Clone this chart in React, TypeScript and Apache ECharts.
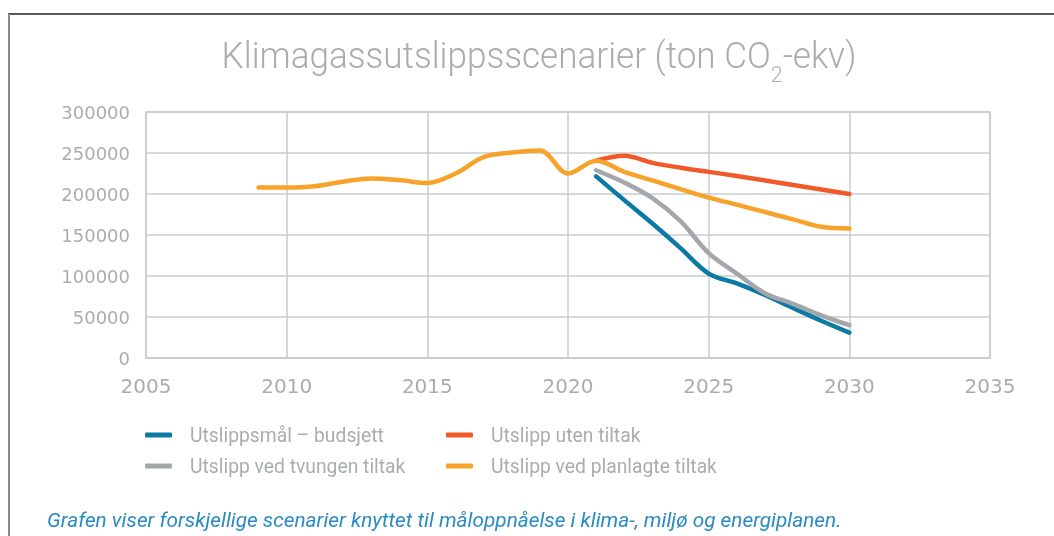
import React, { useEffect, useRef } from "react";
import * as echarts from "echarts";

const histYears = [2009, 2010, 2011, 2012, 2013, 2014, 2015, 2016, 2017, 2018, 2019, 2020, 2021];
const projYears = [2021, 2022, 2023, 2024, 2025, 2026, 2027, 2028, 2029, 2030];

const planlagteHist = [208000, 208000, 209500, 215000, 219000, 217000, 213500, 225000, 245000, 250500, 253000, 225000, 240500];
const planlagteProj = [240500, 227000, 216500, 206000, 195500, 187000, 178000, 169000, 160000, 158000];
const utenTiltak = [240500, 246500, 238000, 232000, 227000, 222000, 216500, 211000, 205500, 200000];
const tvungen = [229000, 214000, 195000, 167000, 128000, 103000, 79000, 66000, 52000, 40000];
const budsjett = [221500, 192500, 164000, 134000, 103000, 91000, 77000, 61000, 45500, 31000];

const seriesNames = [
  "Utslippsmål – budsjett",
  "Utslipp uten tiltak",
  "Utslipp ved tvungen tiltak",
  "Utslipp ved planlagte tiltak",
];
const colors = ["#0b7aa5", "#f05a28", "#a3a6aa", "#f7a229"];

const titleMain = "Klimagassutslippsscenarier (ton CO";
const titleSub = "2";
const titleEnd = "-ekv)";
const caption = "Grafen viser forskjellige scenarier knyttet til måloppnåelse i klima-, miljø og energiplanen.";

const pair = (xs: number[], ys: number[]) => xs.map((x, i) => [x, ys[i]]);

export default function App() {
  const ref = useRef<HTMLDivElement>(null);
  useEffect(() => {
    if (!ref.current) return;
    const chart = echarts.init(ref.current, null, { renderer: "svg" });
    const gridColor = "#c9ccce";
    const labelColor = "#a9adb0";
    const lineSeries = (name: string, color: string, data: number[][]) => ({
      name,
      type: "line",
      data,
      smooth: 0.35,
      showSymbol: false,
      symbol: "none",
      lineStyle: { color, width: 4.5, cap: "round", join: "round" },
      itemStyle: { color },
    });
    const orangeData = pair(histYears, planlagteHist).concat(pair(projYears, planlagteProj).slice(1));
    const legendCommon = {
      orient: "vertical",
      top: 420,
      itemWidth: 27,
      itemHeight: 5,
      itemGap: 11,
      icon: "roundRect",
      textStyle: { color: labelColor, fontFamily: "Roboto", fontSize: 19.3, lineHeight: 20, padding: [0, 0, 0, 13] },
    };
    chart.setOption({
      animation: false,
      grid: { left: 146, right: 64, top: 112, bottom: 178, show: true, borderColor: gridColor, borderWidth: 1.5, outerBoundsMode: "none" },
      xAxis: {
        type: "value",
        min: 2005,
        max: 2035,
        interval: 5,
        axisLine: { show: true, lineStyle: { color: gridColor, width: 1.5 } },
        axisTick: { show: false },
        splitLine: { show: true, lineStyle: { color: gridColor, width: 1.5 } },
        axisLabel: { color: labelColor, fontFamily: "DejaVu Sans", fontSize: 20, margin: 18, formatter: (v: number) => String(v) },
      },
      yAxis: {
        type: "value",
        min: 0,
        max: 300000,
        interval: 50000,
        axisLine: { show: false },
        axisTick: { show: false },
        splitLine: { show: true, lineStyle: { color: gridColor, width: 1.5 } },
        axisLabel: { color: labelColor, fontFamily: "DejaVu Sans", fontSize: 18, margin: 16, formatter: (v: number) => String(v) },
      },
      legend: [
        { ...legendCommon, data: [seriesNames[0], seriesNames[2]], left: 140 },
        { ...legendCommon, data: [seriesNames[1], seriesNames[3]], left: 441 },
      ],
      series: [
        lineSeries(seriesNames[0], colors[0], pair(projYears, budsjett)),
        lineSeries(seriesNames[1], colors[1], pair(projYears, utenTiltak)),
        lineSeries(seriesNames[2], colors[2], pair(projYears, tvungen)),
        lineSeries(seriesNames[3], colors[3], orangeData),
      ],
      graphic: [
        { type: "line", shape: { x1: 8, y1: 14, x2: 1054, y2: 14 }, style: { stroke: "#222", lineWidth: 1.5 } },
        { type: "line", shape: { x1: 9, y1: 14, x2: 9, y2: 536 }, style: { stroke: "#8a8a8a", lineWidth: 2 } },
        {
          type: "text",
          x: 539,
          y: 38,
          scaleX: 0.975,
          style: {
            text: `{t|${titleMain}}{s|${titleSub}}{t|${titleEnd}}`,
            align: "center",
            verticalAlign: "top",
            fill: labelColor,
            rich: {
              t: { fontFamily: "Roboto", fontWeight: 300, fontSize: 36, lineHeight: 40, fill: labelColor, verticalAlign: "top" },
              s: { fontFamily: "Roboto", fontWeight: 300, fontSize: 22, lineHeight: 20, padding: [25, 0, 0, 0], fill: labelColor, verticalAlign: "top" },
            },
          },
        },
        {
          type: "text",
          x: 47,
          y: 520,
          scaleX: 1.04,
          style: {
            text: caption,
            fontFamily: "Roboto",
            fontStyle: "italic",
            fontSize: 20,
            fill: "#2a8cc2",
            align: "left",
            verticalAlign: "middle",
          },
        },
      ],
    });
    return () => chart.dispose();
  }, []);
  return <div ref={ref} style={{ position: "fixed", left: 0, top: 0, width: 1054, height: 536 }} />;
}
